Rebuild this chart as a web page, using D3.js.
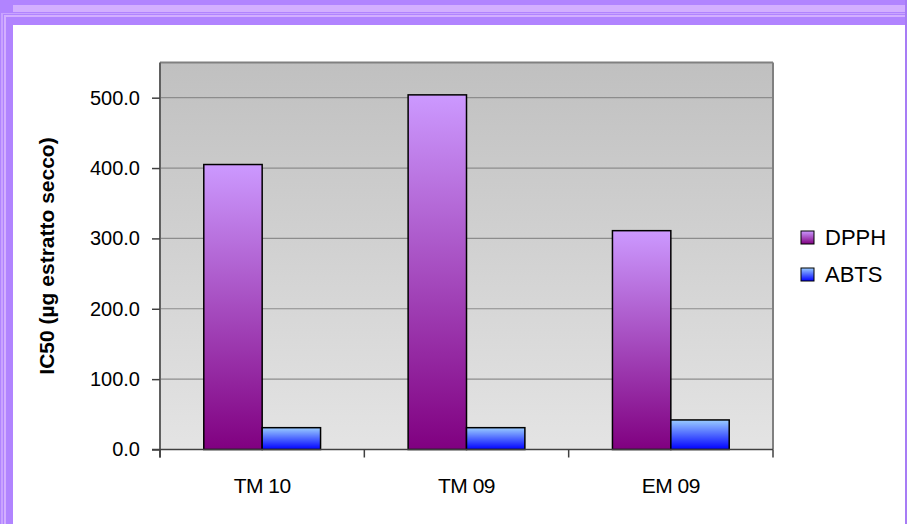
<!DOCTYPE html>
<html>
<head>
<meta charset="utf-8">
<script src="https://cdn.jsdelivr.net/npm/d3@7"></script>
<style>
  body { margin: 0; background: #fff; }
  svg { display: block; font-family: 'Liberation Sans', Arial, sans-serif; }
</style>
</head>
<body>
<div id="chart"></div>
<script>
var categories = ['TM 10', 'TM 09', 'EM 09'];
var seriesNames = ['DPPH', 'ABTS'];
var dpph = [405, 504, 311];
var abts = [31, 31, 42];
var yTicks = [0, 100, 200, 300, 400, 500];
var yTitle = 'IC50 (µg estratto secco)';

var width = 907, height = 524;

var svg = d3.select('#chart')
    .append('svg')
    .attr('width', width)
    .attr('height', height);

var defs = svg.append('defs');

function vGrad(id, top, bottom) {
    var g = defs.append('linearGradient').attr('id', id)
        .attr('x1', 0).attr('y1', 0).attr('x2', 0).attr('y2', 1);
    g.append('stop').attr('offset', '0%').attr('stop-color', top);
    g.append('stop').attr('offset', '100%').attr('stop-color', bottom);
}
vGrad('bgGrad', '#c0c0c0', '#e4e4e4');
vGrad('dpphGrad', '#cc99ff', '#800080');
vGrad('abtsGrad', '#99ccff', '#0000ff');

// frame
svg.append('rect').attr('width', width).attr('height', height).attr('fill', '#fff');
svg.append('rect').attr('x', 0).attr('y', 0).attr('width', width).attr('height', 25).attr('fill', '#b184ff');
svg.append('rect').attr('x', 0).attr('y', 5).attr('width', width).attr('height', 7).attr('fill', '#d3afff');
svg.append('rect').attr('x', 0).attr('y', 0).attr('width', 13).attr('height', height).attr('fill', '#b184ff');
svg.append('rect').attr('x', 1).attr('y', 13).attr('width', 2).attr('height', height).attr('fill', '#c9a3ff');
svg.append('rect').attr('x', 4).attr('y', 15).attr('width', 2).attr('height', height).attr('fill', '#d3afff');
svg.append('rect').attr('x', 4).attr('y', 15).attr('width', width).attr('height', 2).attr('fill', '#d3afff');
svg.append('rect').attr('x', 1).attr('y', 13).attr('width', width).attr('height', 1).attr('fill', '#c9a3ff');
svg.append('rect').attr('x', 905).attr('y', 0).attr('width', 2).attr('height', height).attr('fill', '#a77cf5');
svg.append('rect').attr('x', 13).attr('y', 25).attr('width', 892).attr('height', height - 25).attr('fill', '#fff');

var plotL = 160, plotR = 773, plotT = 62.5, plotB = 449.5;

var x = d3.scaleBand().domain(categories).range([plotL, plotR]).paddingInner(0).paddingOuter(0);
var xSub = d3.scaleBand().domain(seriesNames).range([0, x.bandwidth()]).paddingInner(0).paddingOuter(0.75);
var y = d3.scaleLinear().domain([0, 550]).range([plotB, plotT]);

svg.append('rect')
    .attr('x', plotL).attr('y', plotT)
    .attr('width', plotR - plotL).attr('height', plotB - plotT)
    .attr('fill', 'url(#bgGrad)');

// gridlines
svg.append('g').selectAll('line')
    .data(yTicks.filter(d => d > 0))
    .enter().append('line')
    .attr('x1', plotL).attr('x2', plotR)
    .attr('y1', d => y(d)).attr('y2', d => y(d))
    .attr('stroke', '#8c8c8c').attr('stroke-width', 1.2);

// plot border top/right
svg.append('line').attr('x1', plotL).attr('x2', plotR).attr('y1', plotT).attr('y2', plotT)
    .attr('stroke', '#808080').attr('stroke-width', 2);
svg.append('line').attr('x1', plotR).attr('x2', plotR).attr('y1', plotT).attr('y2', plotB)
    .attr('stroke', '#808080').attr('stroke-width', 2);

// bars
var rows = categories.map((c, i) => ({ cat: c, vals: [
    { key: 'DPPH', v: dpph[i], fill: 'url(#dpphGrad)' },
    { key: 'ABTS', v: abts[i], fill: 'url(#abtsGrad)' }
] }));

var groups = svg.append('g').selectAll('g')
    .data(rows).enter().append('g')
    .attr('transform', d => `translate(${x(d.cat)},0)`);

groups.selectAll('rect')
    .data(d => d.vals).enter().append('rect')
    .attr('x', d => xSub(d.key))
    .attr('width', xSub.bandwidth())
    .attr('y', d => y(d.v))
    .attr('height', d => plotB - y(d.v))
    .attr('fill', d => d.fill)
    .attr('stroke', '#000').attr('stroke-width', 1.5);

// y axis
var yAxis = svg.append('g')
    .attr('transform', `translate(${plotL},0)`)
    .call(d3.axisLeft(y).tickValues(yTicks).tickFormat(d3.format('.1f')).tickSize(8).tickPadding(12));
yAxis.select('.domain').attr('stroke', '#606060').attr('stroke-width', 2)
    .attr('d', `M0,${plotT}V${plotB + 8}`);
yAxis.selectAll('.tick line').attr('stroke', '#404040').attr('stroke-width', 1.5);
yAxis.selectAll('.tick text').attr('font-size', 20).attr('fill', '#000')
    .attr('font-family', "'Liberation Sans', Arial, sans-serif");

// x axis
var xAxisG = svg.append('g').attr('transform', `translate(0,${plotB})`);
xAxisG.append('line').attr('x1', plotL - 8).attr('x2', plotR).attr('y1', 0).attr('y2', 0)
    .attr('stroke', '#404040').attr('stroke-width', 1.5);
xAxisG.selectAll('.xt')
    .data(categories.map(c => x(c) + x.bandwidth()).concat([plotL]))
    .enter().append('line')
    .attr('x1', d => d).attr('x2', d => d).attr('y1', 0).attr('y2', 8)
    .attr('stroke', '#404040').attr('stroke-width', 1.5);
xAxisG.selectAll('text')
    .data(categories).enter().append('text')
    .attr('x', d => x(d) + x.bandwidth() / 2)
    .attr('y', 43)
    .attr('text-anchor', 'middle')
    .attr('font-size', 21)
    .attr('letter-spacing', -0.5)
    .text(d => d);

// y title
svg.append('text')
    .attr('transform', `translate(54,${(plotT + plotB) / 2})rotate(-90)`)
    .attr('text-anchor', 'middle')
    .attr('font-size', 21)
    .attr('font-weight', 'bold')
    .text(yTitle);

// legend
var legend = svg.append('g').attr('transform', 'translate(801,231)');
var legItems = legend.selectAll('g')
    .data([{ name: seriesNames[0], fill: 'url(#dpphGrad)' }, { name: seriesNames[1], fill: 'url(#abtsGrad)' }])
    .enter().append('g')
    .attr('transform', (d, i) => `translate(0,${i * 37})`);
legItems.append('rect')
    .attr('width', 13).attr('height', 13)
    .attr('fill', d => d.fill)
    .attr('stroke', '#000').attr('stroke-width', 1);
legItems.append('text')
    .attr('x', 24).attr('y', 14)
    .attr('font-size', 22)
    .text(d => d.name);
</script>
</body>
</html>
